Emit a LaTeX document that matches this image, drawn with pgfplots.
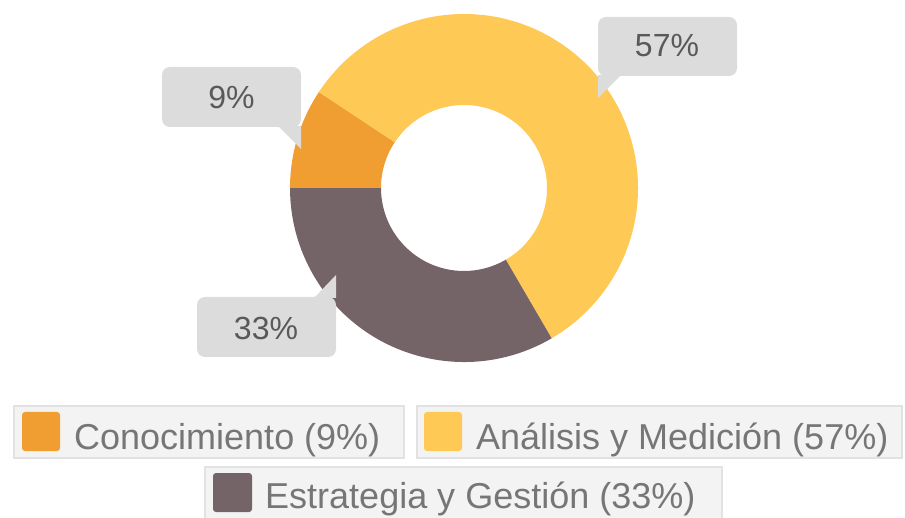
\documentclass[border=0pt]{standalone}
\usepackage{pgfplots}
\usepackage{pgfplotstable}
\pgfplotsset{compat=1.18}
\usepackage{fontspec}
\setmainfont{Liberation Sans}
\definecolor{cono}{HTML}{F09E31}
\definecolor{anal}{HTML}{FFC955}
\definecolor{estr}{HTML}{746467}
\definecolor{callout}{HTML}{DCDCDC}
\definecolor{calltext}{HTML}{595959}
\definecolor{legtext}{HTML}{767676}
\definecolor{legfill}{HTML}{F3F3F3}
\definecolor{legline}{HTML}{E2E2E2}

\pgfplotstableread{
name value
Conocimiento 9.3
Analisis 57.3
Estrategia 33.4
}\datatable

\begin{document}
\begin{tikzpicture}
\pgfplotstablegetelem{0}{value}\of\datatable \let\vA\pgfplotsretval
\pgfplotstablegetelem{1}{value}\of\datatable \let\vB\pgfplotsretval
\pgfplotstablegetelem{2}{value}\of\datatable \let\vC\pgfplotsretval
\pgfmathsetmacro{\tot}{\vA+\vB+\vC}
\pgfmathsetmacro{\aO}{180}
\pgfmathsetmacro{\aA}{180-\vA/\tot*360}
\pgfmathsetmacro{\aB}{\aA-\vB/\tot*360}
\pgfmathsetmacro{\aC}{\aB-\vC/\tot*360}
\begin{axis}[
  width=905pt, height=517pt, scale only axis,
  xmin=0, xmax=905, ymin=-517, ymax=0,
  axis lines=none, enlargelimits=false, clip=true,
]
\coordinate (BL) at (axis cs:0,-517);
\coordinate (TR) at (axis cs:905,0);
% donut slices
\fill[cono, shift={(axis cs:464,-188)}] (\aO:174pt) arc[start angle=\aO, end angle=\aA, radius=174pt] -- (\aA:83pt) arc[start angle=\aA, end angle=\aO, radius=83pt] -- cycle;
\fill[anal, shift={(axis cs:464,-188)}] (\aA:174pt) arc[start angle=\aA, end angle=\aB, radius=174pt] -- (\aB:83pt) arc[start angle=\aB, end angle=\aA, radius=83pt] -- cycle;
\fill[estr, shift={(axis cs:464,-188)}] (\aB:174pt) arc[start angle=\aB, end angle=\aC, radius=174pt] -- (\aC:83pt) arc[start angle=\aC, end angle=\aB, radius=83pt] -- cycle;

% callouts
\fill[callout, rounded corners=8pt] (axis cs:162,-67) rectangle (axis cs:301,-127);
\fill[callout] (axis cs:278,-126) -- (axis cs:301,-126) -- (axis cs:301,-149) -- cycle;
\node[calltext, inner sep=0pt, font=\fontsize{32}{38}\selectfont] at (axis cs:231.5,-97) {9\%};

\fill[callout, rounded corners=8pt] (axis cs:598,-17) rectangle (axis cs:737,-76);
\fill[callout] (axis cs:598,-75) -- (axis cs:621,-75) -- (axis cs:598,-98) -- cycle;
\node[calltext, inner sep=0pt, font=\fontsize{32}{38}\selectfont] at (axis cs:667,-46) {57\%};

\fill[callout, rounded corners=8pt] (axis cs:197,-297) rectangle (axis cs:336,-357);
\fill[callout] (axis cs:314,-298) -- (axis cs:336,-298) -- (axis cs:336,-275) -- cycle;
\node[calltext, inner sep=0pt, font=\fontsize{32}{38}\selectfont] at (axis cs:266,-328) {33\%};

% legend
\filldraw[fill=legfill, draw=legline, line width=1.5pt] (axis cs:14,-406) rectangle (axis cs:404,-458);
\fill[cono, rounded corners=3pt] (axis cs:22,-412) rectangle (axis cs:60,-451);
\node[legtext, anchor=base west, inner sep=0pt, font=\fontsize{36}{42}\selectfont] at (axis cs:74,-450) {Conocimiento (9\%)};

\filldraw[fill=legfill, draw=legline, line width=1.5pt] (axis cs:417,-406) rectangle (axis cs:902,-458);
\fill[anal, rounded corners=3pt] (axis cs:424,-412) rectangle (axis cs:462,-451);
\node[legtext, anchor=base west, inner sep=0pt, font=\fontsize{36}{42}\selectfont] at (axis cs:476,-450) {Análisis y Medición (57\%)};

\fill[legfill] (axis cs:205,-467) rectangle (axis cs:722,-520);
\draw[legline, line width=1.5pt] (axis cs:205,-520) -- (axis cs:205,-467) -- (axis cs:722,-467) -- (axis cs:722,-520);
\fill[estr, rounded corners=3pt] (axis cs:213,-473) rectangle (axis cs:252,-512);
\node[legtext, anchor=base west, inner sep=0pt, font=\fontsize{36}{42}\selectfont] at (axis cs:265,-508) {Estrategia y Gestión (33\%)};
\end{axis}
\pgfresetboundingbox
\path[use as bounding box] (BL) rectangle (TR);
\end{tikzpicture}
\end{document}
